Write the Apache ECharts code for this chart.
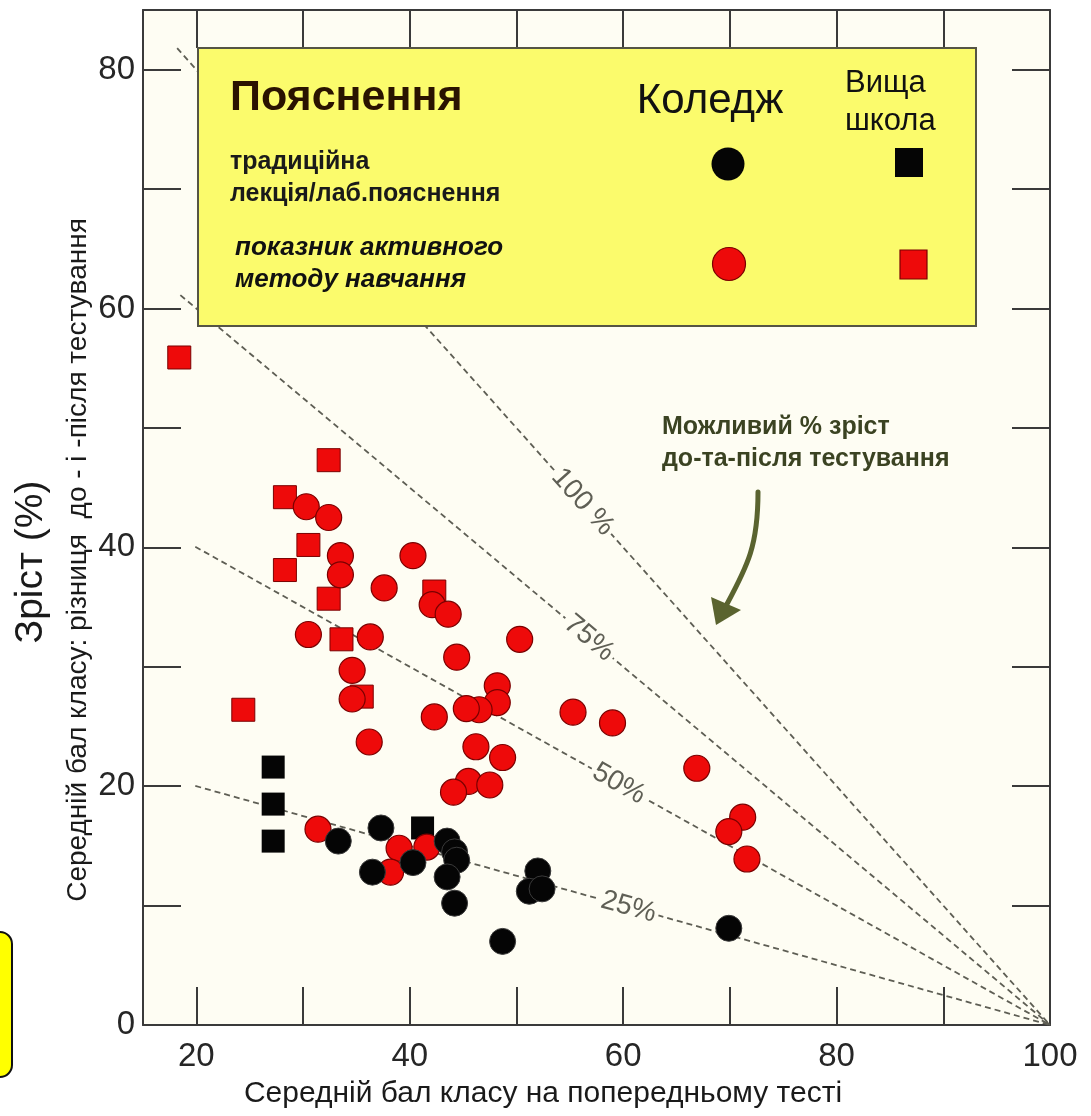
<!DOCTYPE html>
<html>
<head>
<meta charset="utf-8">
<script src="https://cdn.jsdelivr.net/npm/echarts@6/dist/echarts.min.js"></script>
<style>
html,body{margin:0;padding:0;background:#fff;}
#c{width:1091px;height:1116px;}
</style>
</head>
<body>
<div id="c"></div>
<script>
// ---- data ----
// College, traditional lecture (black circles)
var collegeTraditional = [
  [33.3,15.4],[37.3,16.5],[36.5,12.8],[40.3,13.6],[43.5,15.4],[44.2,14.5],
  [44.4,13.8],[43.5,12.4],[44.2,10.2],[48.7,7.0],[52.0,12.9],[51.2,11.2],
  [52.4,11.4],[69.9,8.1]
];
// College, active learning (red circles)
var collegeActive = [
  [30.3,43.4],[32.4,42.5],[33.5,39.3],[33.5,37.7],[40.3,39.3],[37.6,36.6],
  [42.1,35.2],[43.6,34.4],[30.5,32.7],[36.3,32.5],[50.3,32.3],[44.4,30.8],
  [34.6,29.7],[34.6,27.3],[48.2,28.4],[48.2,27.0],[46.5,26.4],[45.3,26.5],
  [42.3,25.8],[55.3,26.2],[59.0,25.3],[36.2,23.7],[46.2,23.3],[48.7,22.4],
  [45.5,20.4],[47.5,20.1],[44.1,19.5],[66.9,21.5],[71.2,17.4],[69.9,16.2],
  [71.6,13.9],[31.4,16.4],[39.0,14.8],[41.6,14.9],[38.2,12.8]
];
// High school, traditional (black squares)
var schoolTraditional = [[27.2,21.6],[27.2,18.5],[27.2,15.4],[41.2,16.5]];
// High school, active (red squares)
var schoolActive = [
  [18.4,55.9],[32.4,47.3],[28.3,44.2],[30.5,40.2],[28.3,38.1],[32.4,35.7],
  [42.3,36.3],[33.6,32.3],[35.5,27.5],[24.4,26.4]
];
// reference lines of possible % gain
var gainLevels = [100, 75, 50, 25];
var gainLineStartX = [18.2, 18.5, 19.9, 19.9];
var gainLabels = ['100 %', '75%', '50%', '25%'];
var gainLabelX = [56.2, 56.8, 59.6, 60.5];
var xLabelValues = [20, 40, 60, 80, 100];
var xTickValues = [20, 30, 40, 50, 60, 70, 80, 90];
var yLabelValues = [0, 20, 40, 60, 80];
var yTickValues = [10, 20, 30, 40, 50, 60, 70, 80];

// ---- layout ----
var G = {left:143, top:10, right:41, bottom:91};
var W = 1091, H = 1116;
var plotW = W - G.left - G.right, plotH = H - G.top - G.bottom;
var XMIN = 15, XMAX = 100, YMIN = 0, YMAX = 85;
var kx = plotW/(XMAX-XMIN), ky = plotH/(YMAX-YMIN);
var BG = '#fefdf3';
var LINE_C = '#5e5e54';

var chart = echarts.init(document.getElementById('c'), null, {renderer:'canvas'});

var series = [];
gainLevels.forEach(function(g, i){
  var x0 = gainLineStartX[i];
  series.push({
    type:'line', name:'gain'+g, silent:true, z:1,
    data:[[x0, g/100*(100-x0)],[100,0]],
    symbol:'none',
    lineStyle:{color:LINE_C, width:1.8, type:[6,4]}
  });
});
gainLevels.forEach(function(g, i){
  var lx = gainLabelX[i];
  var ang = Math.atan(g/100*ky/kx)*180/Math.PI;
  series.push({
    type:'scatter', silent:true, z:3,
    data:[{value:[lx, g/100*(100-lx)], name:gainLabels[i]}],
    symbol:'circle', symbolSize:1, itemStyle:{color:'rgba(0,0,0,0)', opacity:1},
    label:{show:true, position:'inside', formatter:'{b}', rotate:-ang,
      fontSize:28, fontFamily:'Liberation Sans', color:'#5f5f55',
      backgroundColor:BG, padding:[0,3]}
  });
});
series.push({type:'scatter', name:'schoolActive', z:4, data:schoolActive, symbol:'rect', symbolSize:23,
  itemStyle:{color:'#ee0a0a', borderColor:'#7a0000', borderWidth:1, opacity:1}});
series.push({type:'scatter', name:'schoolTraditional', z:4, data:schoolTraditional, symbol:'rect', symbolSize:23,
  itemStyle:{color:'#050505', opacity:1}});
series.push({type:'scatter', name:'collegeActive', z:5, data:collegeActive, symbol:'circle', symbolSize:26,
  itemStyle:{color:'#ee0a0a', borderColor:'#7a0000', borderWidth:1.2, opacity:1}});
series.push({type:'scatter', name:'collegeTraditional', z:6, data:collegeTraditional, symbol:'circle', symbolSize:26,
  itemStyle:{color:'#050505', borderColor:'#3a3a3a', borderWidth:1, opacity:1}});

var axisFont = {fontSize:33, color:'#262626', fontFamily:'Liberation Sans'};
var option = {
  backgroundColor:'#ffffff',
  animation:false,
  grid:{left:G.left, top:G.top, right:G.right, bottom:G.bottom, show:true, backgroundColor:BG, borderWidth:0},
  xAxis:[
    {type:'value', min:XMIN, max:XMAX, position:'bottom',
     axisLine:{show:true, onZero:false, lineStyle:{color:'#3a3a3a', width:2}},
     axisTick:{show:true, inside:true, length:38, customValues:xTickValues, lineStyle:{color:'#3a3a3a', width:2}},
     axisLabel:{show:true, customValues:xLabelValues, margin:15, ...axisFont},
     splitLine:{show:false}},
    {type:'value', min:XMIN, max:XMAX, position:'top',
     axisLine:{show:true, onZero:false, lineStyle:{color:'#3a3a3a', width:2}},
     axisTick:{show:true, inside:true, length:38, customValues:xTickValues, lineStyle:{color:'#3a3a3a', width:2}},
     axisLabel:{show:false}, splitLine:{show:false}}
  ],
  yAxis:[
    {type:'value', min:YMIN, max:YMAX, position:'left',
     axisLine:{show:true, onZero:false, lineStyle:{color:'#3a3a3a', width:2}},
     axisTick:{show:true, inside:true, length:38, customValues:yTickValues, lineStyle:{color:'#3a3a3a', width:2}},
     axisLabel:{show:true, customValues:yLabelValues, margin:8, ...axisFont},
     splitLine:{show:false}},
    {type:'value', min:YMIN, max:YMAX, position:'right',
     axisLine:{show:true, onZero:false, lineStyle:{color:'#3a3a3a', width:2}},
     axisTick:{show:true, inside:true, length:38, customValues:yTickValues, lineStyle:{color:'#3a3a3a', width:2}},
     axisLabel:{show:false}, splitLine:{show:false}}
  ],
  series:series,
  graphic:[
    // legend box
    {type:'rect', z:100, shape:{x:198, y:48, width:778, height:278},
     style:{fill:'#fbfb6c', stroke:'#555544', lineWidth:2}},
    {type:'text', z:101, x:230, y:98, style:{text:'Пояснення', font:'bold 43px "Liberation Sans"', fill:'#2a1300', verticalAlign:'middle'}},
    {type:'text', z:101, x:230, y:162, style:{text:'традиційна', font:'bold 25px "Liberation Sans"', fill:'#1a1a1a', verticalAlign:'middle'}},
    {type:'text', z:101, x:230, y:194, style:{text:'лекція/лаб.пояснення', font:'bold 25px "Liberation Sans"', fill:'#1a1a1a', verticalAlign:'middle'}},
    {type:'text', z:101, x:235, y:248, style:{text:'показник активного', font:'italic bold 26px "Liberation Sans"', fill:'#111', verticalAlign:'middle'}},
    {type:'text', z:101, x:235, y:280, style:{text:'методу навчання', font:'italic bold 26px "Liberation Sans"', fill:'#111', verticalAlign:'middle'}},
    {type:'text', z:101, x:710, y:101, style:{text:'Коледж', font:'42px "Liberation Sans"', fill:'#111', align:'center', verticalAlign:'middle'}},
    {type:'text', z:101, x:845, y:83, style:{text:'Вища', font:'31px "Liberation Sans"', fill:'#111', verticalAlign:'middle'}},
    {type:'text', z:101, x:845, y:121, style:{text:'школа', font:'31px "Liberation Sans"', fill:'#111', verticalAlign:'middle'}},
    {type:'circle', z:101, shape:{cx:728, cy:164, r:16.5}, style:{fill:'#050505'}},
    {type:'rect', z:101, shape:{x:895, y:148, width:28, height:29}, style:{fill:'#050505'}},
    {type:'circle', z:101, shape:{cx:729, cy:264, r:16.5}, style:{fill:'#ee0a0a', stroke:'#7a0000', lineWidth:1.2}},
    {type:'rect', z:101, shape:{x:900, y:250, width:27, height:29}, style:{fill:'#ee0a0a', stroke:'#7a0000', lineWidth:1.2}},
    // annotation
    {type:'text', z:101, x:662, y:427, style:{text:'Можливий % зріст', font:'bold 25px "Liberation Sans"', fill:'#3b4322', verticalAlign:'middle'}},
    {type:'text', z:101, x:662, y:459, style:{text:'до-та-після тестування', font:'bold 25px "Liberation Sans"', fill:'#3b4322', verticalAlign:'middle'}},
    {type:'bezierCurve', z:101, shape:{x1:758, y1:492, cpx1:758, cpy1:545, cpx2:748, cpy2:565, x2:727, y2:604},
     style:{fill:null, stroke:'#5a632f', lineWidth:5, lineCap:'round'}},
    {type:'polygon', z:101, shape:{points:[[711,597],[741,610],[716,625]]}, style:{fill:'#5a632f'}},
    // axis titles
    {type:'text', z:101, x:31, y:562, rotation:Math.PI/2,
     style:{text:'Зріст (%)', font:'39px "Liberation Sans"', fill:'#1a1a1a', align:'center', verticalAlign:'middle'}},
    {type:'text', z:101, x:78, y:560, rotation:Math.PI/2,
     style:{text:'Середній бал класу: різниця  до - і -після тестування', font:'28px "Liberation Sans"', fill:'#1a1a1a', align:'center', verticalAlign:'middle'}},
    {type:'text', z:101, x:543, y:1094,
     style:{text:'Середній бал класу на попередньому тесті', font:'30px "Liberation Sans"', fill:'#1a1a1a', align:'center', verticalAlign:'middle'}},
    // stray yellow tab at the left edge
    {type:'rect', z:101, shape:{x:-14, y:932, width:26, height:145, r:12},
     style:{fill:'#ffff00', stroke:'#111', lineWidth:2}}
  ]
};
chart.setOption(option);
</script>
</body>
</html>
